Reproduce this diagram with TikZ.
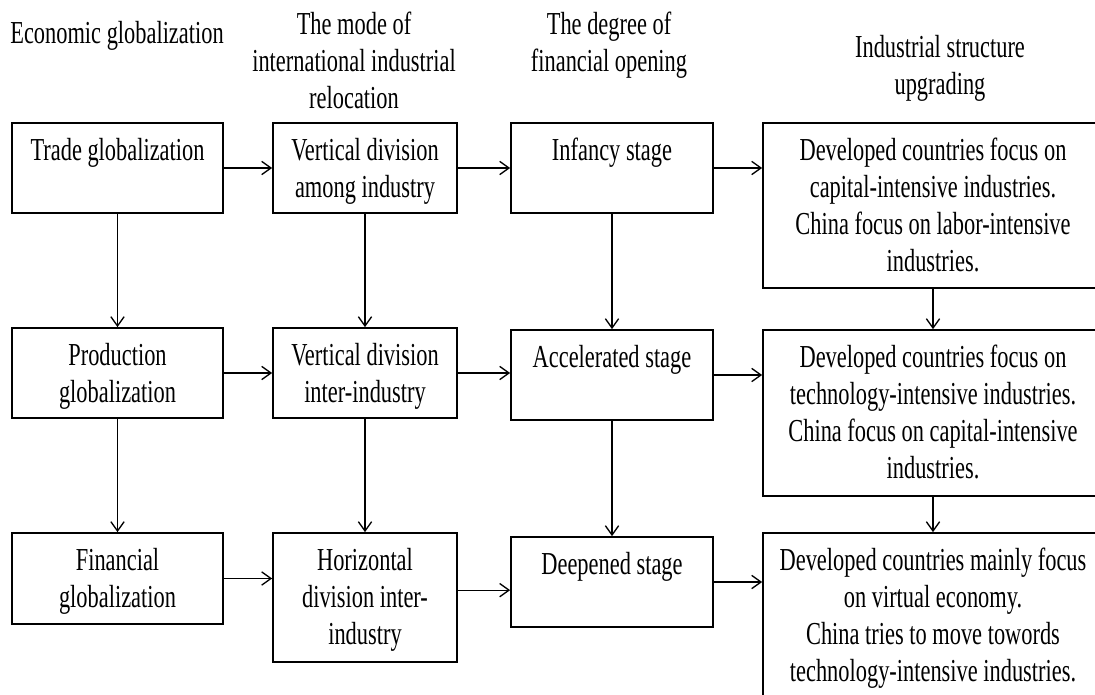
\documentclass[tikz,border=0pt]{standalone}
\usepackage{fontspec}
\setmainfont{Liberation Serif}[FakeStretch=0.70]
\usetikzlibrary{arrows.meta}

\begin{document}
\begin{tikzpicture}[
    x=0.75pt, y=-0.75pt,
    >={Straight Barb[length=7pt,width=10pt]},
    font=\fontsize{24pt}{27.75pt}\selectfont,
    box/.style={draw, line width=1.3pt, inner sep=0pt},
    colA/.style={minimum width=158.25pt},
    colB/.style={minimum width=138pt},
    colC/.style={minimum width=151.5pt},
    colD/.style={minimum width=255pt},
    txt/.style={align=center, inner sep=0pt, anchor=north},
    link/.style={->, line width=1pt}
]

    % Page frame
    \clip (0,0) rectangle (1095,695);

    % Column headers
    \node[txt] (hA) at (117,21) {Economic globalization};
    \node[txt] (hB) at (354,12) {The mode of\\international industrial\\relocation};
    \node[txt] (hC) at (609,12) {The degree of\\financial opening};
    \node[txt] (hD) at (940,35) {Industrial structure\\upgrading};

    % Boxes, first row
    \node[box, colA, minimum height=67.5pt] (trade) at (117.5,168) {};
    \node[box, colB, minimum height=67.5pt] (vamong) at (365,168) {};
    \node[box, colC, minimum height=67.5pt] (infancy) at (612,168) {};
    \node[box, colD, minimum height=123.75pt] (upA) at (933,205.5) {};

    % Boxes, second row
    \node[box, colA, minimum height=67.5pt] (prod) at (117.5,373) {};
    \node[box, colB, minimum height=67.5pt] (vinter) at (365,373) {};
    \node[box, colC, minimum height=67.5pt] (accel) at (612,375) {};
    \node[box, colD, minimum height=124.5pt] (upB) at (933,413) {};

    % Boxes, third row
    \node[box, colA, minimum height=68.25pt] (fin) at (117.5,578.5) {};
    \node[box, colB, minimum height=96.75pt] (horiz) at (365,597.5) {};
    \node[box, colC, minimum height=67.5pt] (deep) at (612,582) {};
    \node[box, colD, minimum height=123.75pt] (upC) at (933,615.5) {};

    % Texts (top aligned in the boxes)
    \node[txt] (trade-t) at ([yshift=-12pt]trade.north) {Trade globalization};
    \node[txt] (vamong-t) at ([yshift=-12pt]vamong.north) {Vertical division\\among industry};
    \node[txt] (infancy-t) at ([yshift=-12pt]infancy.north) {Infancy stage};
    \node[txt] (upA-t) at ([yshift=-12pt]upA.north) {Developed countries focus on\\capital-intensive industries.\\China focus on labor-intensive\\industries.};

    \node[txt] (prod-t) at ([yshift=-12pt]prod.north) {Production\\globalization};
    \node[txt] (vinter-t) at ([yshift=-12pt]vinter.north) {Vertical division\\inter-industry};
    \node[txt] (accel-t) at ([yshift=-12pt]accel.north) {Accelerated stage};
    \node[txt] (upB-t) at ([yshift=-12pt]upB.north) {Developed countries focus on\\technology-intensive industries.\\China focus on capital-intensive\\industries.};

    \node[txt] (fin-t) at ([yshift=-12pt]fin.north) {Financial\\globalization};
    \node[txt] (horiz-t) at ([yshift=-12pt]horiz.north) {Horizontal\\division inter-\\industry};
    \node[txt] (deep-t) at ([yshift=-12pt]deep.north) {Deepened stage};
    \node[txt] (upC-t) at ([yshift=-12pt]upC.north) {Developed countries mainly focus\\on virtual economy.\\China tries to move towords\\technology-intensive industries.};

    % Horizontal links
    \draw[link] (trade) -- (vamong);
    \draw[link] (vamong) -- (infancy);
    \draw[link] (infancy.east) -- (infancy.east -| upA.west);
    \draw[link] (prod) -- (vinter);
    \draw[link] (vinter.east) -- (vinter.east -| accel.west);
    \draw[link] (accel.east) -- (accel.east -| upB.west);
    \draw[link] (fin.east) -- (fin.east -| horiz.west);
    \draw[link] ([yshift=5.5pt]horiz.east) -- ([yshift=5.5pt]horiz.east -| deep.west);
    \draw[link] (deep.east) -- (deep.east -| upC.west);

    % Vertical links
    \foreach \a/\b in {trade/prod, prod/fin, vamong/vinter, vinter/horiz,
                       infancy/accel, accel/deep, upA/upB, upB/upC}
        \draw[link] (\a) -- (\b);

\end{tikzpicture}
\end{document}
